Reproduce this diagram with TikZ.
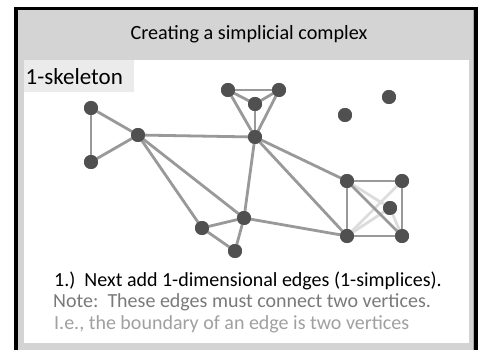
\documentclass[tikz,border=0pt]{standalone}
\usepackage{fontspec}
\setmainfont{Carlito}
\definecolor{hdr}{HTML}{D4D4D4}
\definecolor{lbl}{HTML}{EBEBEB}
\definecolor{vtx}{HTML}{505050}
\definecolor{edg}{HTML}{999999}
\definecolor{ledg}{HTML}{DCDCDC}
\definecolor{txtb}{HTML}{7A7A7A}
\definecolor{txtc}{HTML}{A0A0A0}
\tikzset{
  vert/.style={circle,fill=vtx,inner sep=0pt,minimum size=14pt},
  edge/.style={draw=edg,line width=2.8pt},
  ledge/.style={draw=ledg,line width=2.8pt},
  body/.style={anchor=base west,inner sep=0pt,font=\fontsize{20}{24}\selectfont}
}
\begin{document}
\begin{tikzpicture}[x=1pt,y=-1pt]
\useasboundingbox (0,0) rectangle (482,350);
\fill[white] (0,0) rectangle (482,350);
% frame
\draw[line width=3.5pt,fill=hdr] (15.8,8.7) rectangle (476.2,365);
\draw[line width=0.8pt,draw=gray!70] (473.2,10.5) -- (473.2,350);
\fill[white] (24,60) rectangle (469,343);
% title
\node[anchor=base,inner sep=0pt,font=\fontsize{20.2}{24}\selectfont] (title) at (249,40) {Creating a simplicial complex};
% label box
\fill[lbl] (24,60) rectangle (134,92);
\node[anchor=base west,inner sep=0pt,font=\fontsize{23}{26}\selectfont] (skel) at (25.5,85) {1-skeleton};
% vertices
\node[vert] (A) at (91,108) {};
\node[vert] (B) at (91,162) {};
\node[vert] (C) at (138,135) {};
\node[vert] (D) at (228,90) {};
\node[vert] (E) at (279,90) {};
\node[vert] (F) at (255,104) {};
\node[vert] (G) at (255,137) {};
\node[vert] (H) at (244,218) {};
\node[vert] (I) at (202,228) {};
\node[vert] (J) at (235,251) {};
\node[vert] (K) at (345,115) {};
\node[vert] (L) at (389,97) {};
\node[vert] (M) at (347,181) {};
\node[vert] (N) at (402,181) {};
\node[vert] (O) at (347,236) {};
\node[vert] (P) at (402,236) {};
\node[vert] (Q) at (390,208) {};
% edges
\path[ledge] (M.center) -- (Q.center);
\path[ledge] (O.center) -- (N.center);
\path[ledge] (O.center) -- (Q.center);
\path[ledge] (Q.center) -- (P.center);
\path[edge] (A.center) -- (B.center);
\path[edge] (A.center) -- (C.center);
\path[edge] (B.center) -- (C.center);
\path[edge] (C.center) -- (G.center);
\path[edge] (C.center) -- (H.center);
\path[edge] (C.center) -- (I.center);
\path[edge] (D.center) -- (E.center);
\path[edge] (D.center) -- (F.center);
\path[edge] (E.center) -- (F.center);
\path[edge] (D.center) -- (G.center);
\path[edge] (E.center) -- (G.center);
\path[edge] (F.center) -- (G.center);
\path[edge] (G.center) -- (H.center);
\path[edge] (G.center) -- (M.center);
\path[edge] (G.center) -- (O.center);
\path[edge] (H.center) -- (I.center);
\path[edge] (H.center) -- (J.center);
\path[edge] (I.center) -- (J.center);
\path[edge] (H.center) -- (O.center);
\path[edge] (M.center) -- (N.center);
\path[edge] (M.center) -- (O.center);
\path[edge] (N.center) -- (P.center);
\path[edge] (O.center) -- (P.center);
\path[edge] (M.center) -- (P.center);
% redraw vertices on top
\foreach \v in {A,B,C,D,E,F,G,H,I,J,K,L,M,N,O,P,Q}
  \fill[vtx] (\v.center) circle (7pt);
% text
\begin{scope}
\clip (24,60) rectangle (469,343);
\node[body] (t1) at (54,286) {1.)\ \ Next add 1-dimensional edges (1-simplices).};
\node[body,text=txtb] (t2) at (53,307.5) {Note:\ \ These edges must connect two vertices.};
\node[body,text=txtc] (t3) at (54,329) {I.e., the boundary of an edge is two vertices};
\end{scope}
\end{tikzpicture}
\end{document}
